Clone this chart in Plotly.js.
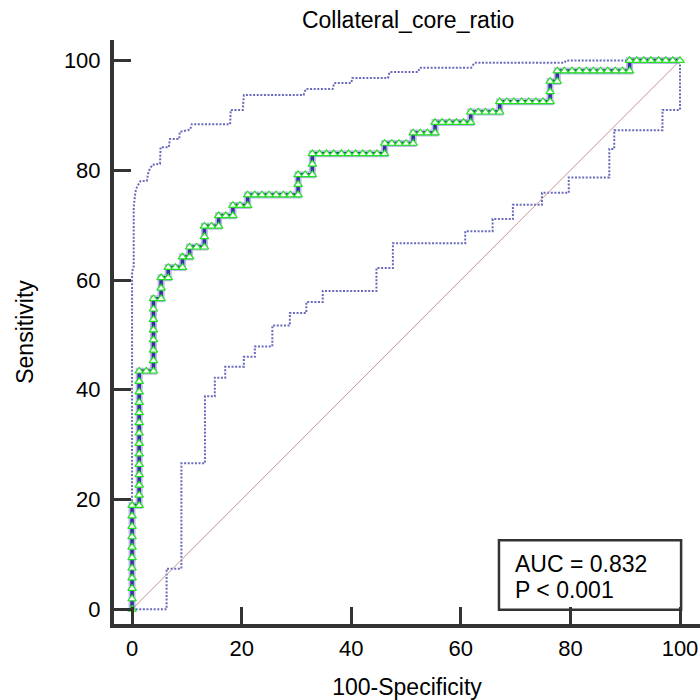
<!DOCTYPE html>
<html>
<head>
<meta charset="utf-8">
<script src="https://cdn.plot.ly/plotly-3.0.1.min.js"></script>
<style>html,body{margin:0;padding:0;background:#fff;}#chart{width:700px;height:700px;}</style>
</head>
<body>
<div id="chart"></div>
<script>
// ROC curve points (100-Specificity, Sensitivity), one per case
const rocFpr = [
  0,0,0,0,0,0,0,0,0,0,0,
  1.3,1.3,1.3,1.3,1.3,1.3,1.3,1.3,1.3,1.3,1.3,1.3,1.3,1.3,
  2.6,3.9,3.9,3.9,3.9,3.9,3.9,3.9,3.9,
  5.3,5.3,5.3,
  6.6,6.6,
  7.9,9.2,9.2,
  10.5,10.5,
  11.8,13.2,13.2,13.2,
  14.5,15.8,15.8,
  17.1,18.4,18.4,
  19.7,21.1,21.1,
  22.4,23.7,25.0,26.3,27.6,28.9,30.3,30.3,30.3,
  31.6,32.9,32.9,32.9,
  34.2,35.5,36.8,38.2,39.5,40.8,42.1,43.4,44.7,46.1,46.1,
  47.4,48.7,50.0,51.3,51.3,
  52.6,53.9,55.3,55.3,
  56.6,57.9,59.2,60.5,61.8,61.8,
  63.2,64.5,65.8,67.1,67.1,
  68.4,69.7,71.1,72.4,73.7,75.0,76.3,76.3,76.3,
  77.6,77.6,
  78.9,80.3,81.6,82.9,84.2,85.5,86.8,88.2,89.5,90.8,90.8,
  92.1,93.4,94.7,96.1,97.4,98.7,100
];
const rocTpr = [
  0,1.9,3.8,5.7,7.5,9.4,11.3,13.2,15.1,17.0,18.9,
  18.9,20.8,22.6,24.5,26.4,28.3,30.2,32.1,34.0,35.8,37.7,39.6,41.5,43.4,
  43.4,43.4,45.3,47.2,49.1,50.9,52.8,54.7,56.6,
  56.6,58.5,60.4,
  60.4,62.3,
  62.3,62.3,64.2,
  64.2,66.0,
  66.0,66.0,67.9,69.8,
  69.8,69.8,71.7,
  71.7,71.7,73.6,
  73.6,73.6,75.5,
  75.5,75.5,75.5,75.5,75.5,75.5,75.5,77.4,79.2,
  79.2,79.2,81.1,83.0,
  83.0,83.0,83.0,83.0,83.0,83.0,83.0,83.0,83.0,83.0,84.9,
  84.9,84.9,84.9,84.9,86.8,
  86.8,86.8,86.8,88.7,
  88.7,88.7,88.7,88.7,88.7,90.6,
  90.6,90.6,90.6,90.6,92.5,
  92.5,92.5,92.5,92.5,92.5,92.5,92.5,94.3,96.2,
  96.2,98.1,
  98.1,98.1,98.1,98.1,98.1,98.1,98.1,98.1,98.1,98.1,100,
  100,100,100,100,100,100,100
];
// Upper 95% confidence bound
const upperFpr = [0,0,0.3,0.3,0.6,0.9,1.5,2.7,3.0,3.7,5.1,5.2,6.7,6.9,8.6,8.7,10.6,10.9,17.9,18.0,20.2,20.4,31.3,31.7,36.6,36.9,40.0,40.2,46.7,47.0,52.2,52.5,61.9,62.5,78.9,79.2,100];
const upperTpr = [0,61.5,62.5,73.3,76.0,77.0,78.0,78.1,79.8,81.0,81.2,84.2,84.2,85.7,85.7,87.0,87.4,88.4,88.4,91.0,91.0,93.7,93.7,94.8,94.8,95.9,95.9,96.8,96.8,97.9,97.9,98.7,98.7,99.6,99.6,100,100];
// Lower 95% confidence bound
const lowerFpr = [0,6.3,6.3,9.0,9.0,13.3,13.3,15.1,15.1,17.0,17.0,20.4,20.4,22.4,22.4,25.6,25.6,28.8,28.8,31.8,31.8,34.8,34.8,44.6,44.6,47.6,47.6,60.8,60.8,65.8,65.8,69.5,69.5,74.8,74.8,79.7,79.7,87.1,87.1,88.0,88.0,96.8,96.8,100,100];
const lowerTpr = [0,0,7.4,7.4,26.6,26.6,38.8,38.8,42.2,42.2,44.2,44.2,46.0,46.0,47.9,47.9,51.7,51.7,54.0,54.0,56.0,56.0,58.0,58.0,62.2,62.2,66.7,66.7,68.9,68.9,71.1,71.1,73.7,73.7,75.9,75.9,78.7,78.7,83.9,83.9,87.3,87.3,91.0,91.0,100];
// Reference diagonal
const diagX = [0, 100];
const diagY = [0, 100];
const tickVals = [0, 20, 40, 60, 80, 100];
const aucText = 'AUC = 0.832';
const pText = 'P < 0.001';

const bandLine = {color: '#6a6abd', width: 2, dash: '2px,1.6px'};
const traces = [
  {x: upperFpr, y: upperTpr, mode: 'lines', line: bandLine, hoverinfo: 'skip'},
  {x: lowerFpr, y: lowerTpr, mode: 'lines', line: bandLine, hoverinfo: 'skip'},
  {x: diagX, y: diagY, mode: 'lines', line: {color: '#c49595', width: 1}, hoverinfo: 'skip'},
  {x: rocFpr, y: rocTpr, mode: 'lines', line: {color: 'rgba(130,130,215,0.55)', width: 7}, hoverinfo: 'skip'},
  {x: rocFpr, y: rocTpr, mode: 'lines+markers', line: {color: '#333399', width: 3.5},
   marker: {symbol: 'triangle-up', size: 7.5, color: '#ffffff', line: {color: '#22e022', width: 1.2}}}
];

const font = {family: 'Liberation Sans, Arial, sans-serif', color: '#000'};
const layout = {
  width: 700, height: 700,
  margin: {l: 114, r: 0, t: 40, b: 76},
  paper_bgcolor: '#fff', plot_bgcolor: '#fff',
  showlegend: false,
  font: Object.assign({size: 22}, font),
  title: {text: 'Collateral_core_ratio', font: Object.assign({size: 23}, font),
          x: 0.583, xanchor: 'center', y: 1 - 20/700, yanchor: 'middle'},
  xaxis: {
    range: [-3.3, 103.65], tickvals: tickVals, ticktext: tickVals.map(String),
    showgrid: false, zeroline: false, showline: true, linecolor: '#333', linewidth: 4,
    ticks: 'inside', ticklen: 17, tickwidth: 3, tickcolor: '#333',
    tickfont: Object.assign({size: 22}, font), ticklabelstandoff: 2,
    title: {text: '100-Specificity', font: Object.assign({size: 23}, font), standoff: 19}
  },
  yaxis: {
    range: [-2.68, 103.74], tickvals: tickVals, ticktext: tickVals.map(String),
    showgrid: false, zeroline: false, showline: true, linecolor: '#333', linewidth: 4,
    ticks: 'inside', ticklen: 17, tickwidth: 3, tickcolor: '#333',
    tickfont: Object.assign({size: 22}, font), ticklabelstandoff: 5,
    title: {text: 'Sensitivity', font: Object.assign({size: 23}, font), standoff: 25}
  },
  shapes: [{type: 'rect', xref: 'x', yref: 'y', x0: 66.96, x1: 100.2, y0: -0.1, y1: 12.6,
            line: {color: '#333', width: 2.5}, fillcolor: 'rgba(255,255,255,0)'}],
  annotations: [
    {xref: 'x', yref: 'y', x: 69.6, y: 8.3, text: aucText, showarrow: false,
     xanchor: 'left', yanchor: 'middle', font: Object.assign({size: 23}, font)},
    {xref: 'x', yref: 'y', x: 69.6, y: 3.5, text: pText, showarrow: false,
     xanchor: 'left', yanchor: 'middle', font: Object.assign({size: 23}, font)}
  ]
};
Plotly.newPlot('chart', traces, layout, {displayModeBar: false, staticPlot: true});
</script>
</body>
</html>
